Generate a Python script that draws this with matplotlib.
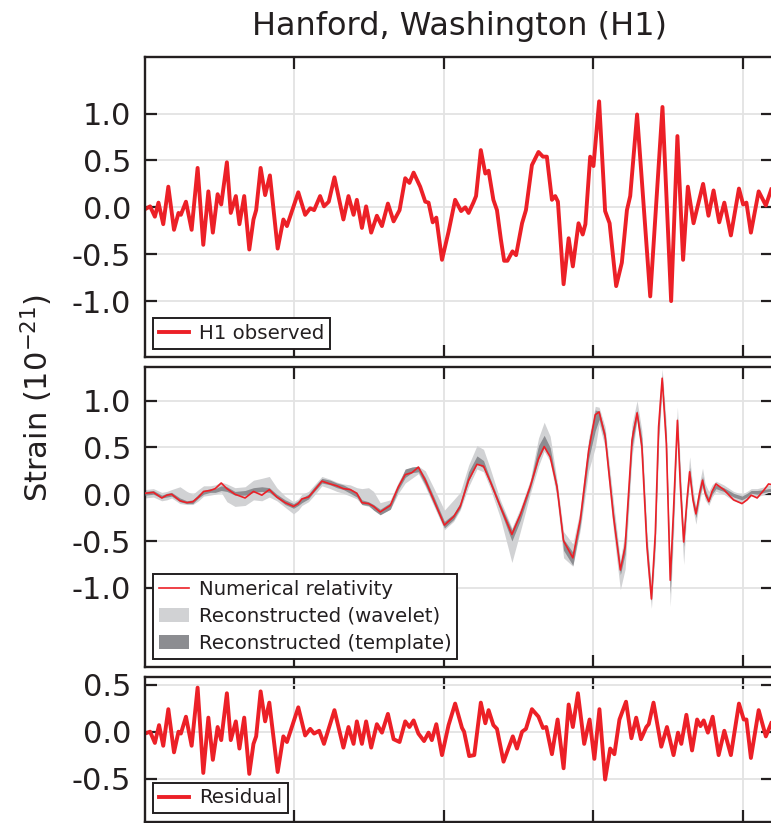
"""
Hanford (H1) strain around the event: observed data, the reconstructed
waveforms with numerical relativity on top, and the residual.
"""

import matplotlib

matplotlib.use("Agg")
import matplotlib.pyplot as plt
from matplotlib.lines import Line2D
from matplotlib.patches import Patch

# observed strain (units of 1e-21) against time (s)
obs_t = [
    0.2500, 0.2517, 0.2533, 0.2545, 0.2561, 0.2578, 0.2597, 0.2612, 0.2620, 0.2637,
    0.2656, 0.2676, 0.2695, 0.2712, 0.2727, 0.2743, 0.2755, 0.2774, 0.2787, 0.2804,
    0.2816, 0.2832, 0.2849, 0.2863, 0.2872, 0.2887, 0.2902, 0.2918, 0.2944, 0.2963,
    0.2975, 0.3013, 0.3036, 0.3053, 0.3066, 0.3086, 0.3099, 0.3115, 0.3134, 0.3164,
    0.3181, 0.3198,
    0.3209, 0.3226, 0.3240, 0.3257, 0.3276, 0.3293, 0.3313, 0.3332, 0.3352, 0.3371,
    0.3385, 0.3399, 0.3421, 0.3438, 0.3449, 0.3463, 0.3475, 0.3494, 0.3516, 0.3538,
    0.3558, 0.3572, 0.3583, 0.3599, 0.3608, 0.3624, 0.3639, 0.3650, 0.3666, 0.3678,
    0.3691, 0.3702, 0.3713, 0.3730, 0.3742, 0.3762, 0.3775, 0.3795, 0.3817, 0.3832,
    0.3845, 0.3862, 0.3873, 0.3882, 0.3901,
    0.3918, 0.3932, 0.3951, 0.3965, 0.3974, 0.3990, 0.4001, 0.4020, 0.4040, 0.4055,
    0.4077, 0.4096, 0.4113, 0.4124, 0.4147, 0.4191, 0.4232, 0.4261, 0.4282, 0.4301,
    0.4317, 0.4336, 0.4368, 0.4386, 0.4403, 0.4422, 0.4439, 0.4461, 0.4488, 0.4502,
    0.4513, 0.4528, 0.4554, 0.4578, 0.4596,
]
obs_strain = [
    -0.02, 0.01, -0.10, 0.05, -0.18, 0.22, -0.24, -0.06, -0.08, 0.06,
    -0.24, 0.42, -0.40, 0.17, -0.27, 0.14, 0.03, 0.48, -0.06, 0.12,
    -0.18, 0.12, -0.45, -0.13, -0.03, 0.42, 0.13, 0.34, -0.44, -0.13,
    -0.20, 0.16, -0.08, -0.01, -0.03, 0.12, 0.01, 0.06, 0.32, -0.13,
    0.12, -0.08,
    0.08, -0.22, 0.01, -0.27, -0.09, -0.20, 0.04, -0.15, -0.03, 0.31,
    0.26, 0.37, 0.22, 0.06, 0.05, -0.16, -0.11, -0.56, -0.26, 0.08,
    -0.04, 0.00, -0.06, 0.05, 0.12, 0.61, 0.36, 0.39, 0.08, -0.03,
    -0.34, -0.57, -0.57, -0.47, -0.51, -0.17, -0.03, 0.45, 0.59, 0.54,
    0.54, 0.08, 0.12, 0.06, -0.82,
    -0.33, -0.63, -0.17, -0.29, -0.18, 0.54, 0.44, 1.13, -0.04, -0.17,
    -0.84, -0.59, -0.03, 0.12, 0.99, -0.95, 1.07, -1.00, 0.76, -0.56,
    0.22, -0.17, 0.25, -0.09, 0.18, -0.16, 0.05, -0.30, 0.20, 0.03,
    0.05, -0.27, 0.17, 0.02, 0.19,
]

# numerical relativity waveform and the two reconstruction bands
nr_t = [
    0.2500, 0.2528, 0.2556, 0.2573, 0.2589, 0.2617, 0.2640, 0.2660, 0.2679, 0.2696,
    0.2718, 0.2735, 0.2755, 0.2774, 0.2801, 0.2835, 0.2863, 0.2891, 0.2916, 0.2941,
    0.2969, 0.2997, 0.3013, 0.3025, 0.3047, 0.3064, 0.3092, 0.3120, 0.3142, 0.3164,
    0.3187, 0.3209, 0.3226, 0.3248, 0.3265, 0.3287, 0.3321, 0.3348, 0.3371, 0.3393,
    0.3415, 0.3438, 0.3466, 0.3502, 0.3533, 0.3555, 0.3583, 0.3611, 0.3633, 0.3655,
    0.3689, 0.3728, 0.3756, 0.3789, 0.3817, 0.3836, 0.3856, 0.3879, 0.3901, 0.3932,
    0.3957, 0.3985, 0.4007, 0.4020, 0.4040, 0.4068, 0.4091, 0.4107, 0.4130, 0.4147,
    0.4163, 0.4180, 0.4195, 0.4208, 0.4219, 0.4231, 0.4245, 0.4258, 0.4269, 0.4282,
    0.4292, 0.4303, 0.4314, 0.4323, 0.4334, 0.4344, 0.4356, 0.4366, 0.4375, 0.4387,
    0.4398, 0.4411, 0.4437, 0.4470, 0.4498, 0.4515, 0.4529, 0.4549, 0.4573, 0.4587,
    0.4603,
]
nr_strain = [
    0.01, 0.02, -0.04, -0.01, 0.00, -0.07, -0.09, -0.08, -0.03, 0.03,
    0.04, 0.06, 0.12, 0.06, 0.00, -0.04, 0.03, -0.01, 0.05, -0.03,
    -0.09, -0.13, -0.10, -0.05, -0.03, 0.03, 0.14, 0.11, 0.09, 0.06,
    0.05, 0.01, -0.09, -0.10, -0.13, -0.19, -0.12, 0.08, 0.21, 0.23,
    0.29, 0.15, -0.06, -0.33, -0.24, -0.13, 0.15, 0.32, 0.30, 0.14,
    -0.13, -0.43, -0.22, 0.08, 0.38, 0.51, 0.40, 0.08, -0.50, -0.68,
    -0.27, 0.47, 0.85, 0.88, 0.62, -0.24, -0.81, -0.56, 0.58, 0.87,
    0.51, -0.56, -1.12, -0.42, 0.72, 1.24, 0.54, -0.92, -0.17, 0.79,
    0.08, -0.51, -0.06, 0.24, -0.06, -0.21, 0.01, 0.15, 0.01, -0.08,
    0.03, 0.11, 0.05, -0.06, -0.10, -0.06, -0.01, -0.04, 0.05, 0.11,
    0.10,
]
wavelet_lo = [
    -0.04, -0.03, -0.07, -0.06, -0.04, -0.10, -0.11, -0.11, -0.07, -0.02,
    -0.01, 0.00, 0.02, -0.08, -0.13, -0.12, -0.06, -0.07, -0.03, -0.07,
    -0.14, -0.21, -0.17, -0.12, -0.08, -0.02, 0.09, 0.06, 0.03, 0.01,
    -0.02, -0.05, -0.11, -0.13, -0.16, -0.21, -0.16, 0.01, 0.12, 0.17,
    0.22, 0.08, -0.12, -0.38, -0.29, -0.17, 0.08, 0.27, 0.24, 0.07,
    -0.25, -0.73, -0.40, 0.00, 0.30, 0.46, 0.35, -0.05, -0.68, -0.77,
    -0.38, 0.25, 0.50, 0.75, 0.50, -0.40, -1.02, -0.80, 0.40, 0.80,
    0.35, -0.75, -1.22, -0.62, 0.50, 1.15, 0.30, -1.20, -0.45, 0.68,
    -0.15, -0.75, -0.16, 0.15, -0.16, -0.32, -0.08, 0.07, -0.06, -0.12,
    -0.03, 0.03, 0.00, -0.07, -0.10, -0.06, -0.02, -0.03, 0.00, 0.02,
    0.02,
]
wavelet_hi = [
    0.05, 0.06, 0.02, 0.03, 0.05, 0.08, 0.03, 0.00, 0.05, 0.09,
    0.09, 0.10, 0.13, 0.11, 0.07, 0.08, 0.15, 0.17, 0.19, 0.07,
    -0.02, -0.08, -0.05, 0.00, 0.03, 0.09, 0.19, 0.16, 0.13, 0.11,
    0.10, 0.07, 0.06, 0.07, 0.03, -0.09, -0.06, 0.13, 0.26, 0.29,
    0.30, 0.25, 0.07, -0.17, -0.06, 0.02, 0.31, 0.52, 0.48, 0.28,
    -0.06, -0.36, -0.15, 0.15, 0.60, 0.77, 0.62, 0.15, -0.40, -0.53,
    -0.16, 0.60, 0.94, 0.93, 0.72, -0.08, -0.70, -0.40, 0.75, 1.00,
    0.68, -0.40, -1.00, -0.25, 0.90, 1.34, 0.75, -0.84, 0.10, 0.93,
    0.30, -0.42, 0.08, 0.40, 0.06, -0.14, 0.12, 0.28, 0.11, 0.03,
    0.10, 0.14, 0.10, 0.03, 0.00, 0.03, 0.06, 0.06, 0.08, 0.10,
    0.10,
]
template_lo = [
    -0.01, 0.00, -0.04, -0.03, -0.02, -0.08, -0.10, -0.10, -0.04, 0.00,
    0.02, 0.02, 0.04, 0.03, -0.01, -0.01, 0.02, 0.03, 0.02, -0.04,
    -0.11, -0.15, -0.12, -0.09, -0.05, 0.02, 0.12, 0.10, 0.07, 0.05,
    0.01, -0.03, -0.11, -0.12, -0.17, -0.22, -0.16, 0.05, 0.18, 0.23,
    0.24, 0.10, -0.10, -0.36, -0.27, -0.15, 0.14, 0.33, 0.28, 0.11,
    -0.17, -0.50, -0.28, 0.05, 0.37, 0.50, 0.40, 0.00, -0.60, -0.76,
    -0.33, 0.38, 0.68, 0.80, 0.56, -0.30, -0.86, -0.64, 0.50, 0.82,
    0.44, -0.64, -1.14, -0.50, 0.62, 1.18, 0.45, -1.06, -0.26, 0.74,
    0.00, -0.56, -0.10, 0.20, -0.10, -0.25, -0.03, 0.10, -0.02, -0.08,
    0.00, 0.06, 0.03, -0.03, -0.06, -0.03, 0.01, 0.00, 0.02, 0.03,
    0.03,
]
template_hi = [
    0.03, 0.04, -0.01, 0.01, 0.02, -0.04, -0.07, -0.06, 0.00, 0.04,
    0.06, 0.06, 0.09, 0.08, 0.03, 0.04, 0.07, 0.08, 0.07, 0.00,
    -0.06, -0.10, -0.07, -0.04, 0.00, 0.07, 0.17, 0.15, 0.12, 0.10,
    0.06, 0.02, -0.06, -0.08, -0.11, -0.16, -0.09, 0.11, 0.27, 0.29,
    0.30, 0.18, -0.02, -0.29, -0.21, -0.09, 0.24, 0.41, 0.36, 0.17,
    -0.10, -0.38, -0.18, 0.12, 0.52, 0.63, 0.50, 0.10, -0.48, -0.62,
    -0.22, 0.56, 0.90, 0.89, 0.66, -0.18, -0.76, -0.48, 0.68, 0.90,
    0.60, -0.48, -1.06, -0.34, 0.80, 1.27, 0.62, -0.88, -0.08, 0.83,
    0.16, -0.46, -0.02, 0.29, -0.02, -0.17, 0.05, 0.19, 0.05, -0.04,
    0.05, 0.10, 0.07, 0.01, -0.02, 0.01, 0.04, 0.04, 0.05, 0.06,
    0.06,
]

# residual: observed minus numerical relativity
res_t = [
    0.2500, 0.2517, 0.2533, 0.2547, 0.2561, 0.2578, 0.2597, 0.2612, 0.2620, 0.2637,
    0.2656, 0.2676, 0.2695, 0.2712, 0.2727, 0.2743, 0.2755, 0.2774, 0.2787, 0.2804,
    0.2816, 0.2832, 0.2849, 0.2863, 0.2872, 0.2887, 0.2902, 0.2916, 0.2944, 0.2963,
    0.2975, 0.3013, 0.3036, 0.3053, 0.3066, 0.3083, 0.3099, 0.3134, 0.3164, 0.3181,
    0.3198,
    0.3209, 0.3226, 0.3240, 0.3257, 0.3276, 0.3293, 0.3313, 0.3332, 0.3352, 0.3371,
    0.3385, 0.3399, 0.3415, 0.3434, 0.3449, 0.3460, 0.3475, 0.3494, 0.3516, 0.3538,
    0.3561, 0.3568, 0.3585, 0.3602, 0.3624, 0.3639, 0.3650, 0.3666, 0.3678, 0.3700,
    0.3731, 0.3745, 0.3762, 0.3775, 0.3795, 0.3817, 0.3832, 0.3843, 0.3862, 0.3881,
    0.3901, 0.3918, 0.3932, 0.3949, 0.3970, 0.3988, 0.4004, 0.4021, 0.4040, 0.4057,
    0.4071, 0.4088, 0.4110, 0.4128, 0.4144, 0.4160, 0.4178, 0.4186, 0.4202, 0.4228,
    0.4247, 0.4269, 0.4284, 0.4295, 0.4312, 0.4331, 0.4348, 0.4359, 0.4370, 0.4384,
    0.4400, 0.4420, 0.4439, 0.4461, 0.4488, 0.4504, 0.4513, 0.4528, 0.4554, 0.4578,
    0.4596,
]
res_strain = [
    -0.02, 0.00, -0.12, 0.07, -0.15, 0.24, -0.22, 0.00, -0.02, 0.16,
    -0.15, 0.47, -0.44, 0.15, -0.30, 0.05, -0.09, 0.41, -0.09, 0.11,
    -0.18, 0.15, -0.45, -0.13, -0.05, 0.43, 0.11, 0.31, -0.43, -0.05,
    -0.11, 0.26, -0.04, 0.03, -0.02, 0.01, -0.13, 0.23, -0.17, 0.05,
    -0.13,
    0.11, -0.13, 0.11, -0.17, 0.08, -0.01, 0.19, -0.08, -0.11, 0.11,
    0.05, 0.12, -0.02, -0.10, -0.01, -0.09, 0.08, -0.25, 0.07, 0.30,
    0.04, 0.00, -0.26, -0.25, 0.31, 0.09, 0.23, 0.07, 0.03, -0.32,
    -0.05, -0.18, 0.00, 0.03, 0.24, 0.16, 0.04, 0.05, -0.24, 0.13,
    -0.39, 0.29, 0.05, 0.41, -0.13, 0.13, -0.29, 0.24, -0.51, -0.18,
    -0.24, 0.13, 0.32, -0.07, 0.15, -0.08, 0.05, 0.08, 0.31, -0.16,
    0.05, -0.25, -0.01, -0.13, 0.18, -0.20, 0.13, 0.06, 0.12, -0.01,
    0.16, -0.25, 0.01, -0.25, 0.30, 0.13, 0.13, -0.28, 0.23, -0.05,
    0.09,
]

time_ticks = [0.30, 0.35, 0.40, 0.45]
strain_ticks = [-1.0, -0.5, 0.0, 0.5, 1.0]
residual_ticks = [-0.5, 0.0, 0.5]

RED = "#ec2027"
LIGHT = "#d1d2d4"
DARK = "#8c8d91"
INK = "#231f20"

plt.rcParams["font.family"] = "DejaVu Sans"
plt.rcParams["axes.unicode_minus"] = False


def style_axes(ax, ylim, yticks):
    """Inward ticks on every side, pale grid and no time labels."""
    ax.set_xlim(0.25, 0.4603)
    ax.set_ylim(*ylim)
    ax.set_xticks(time_ticks)
    ax.set_yticks(yticks)
    ax.grid(True, color="#e3e3e3", linewidth=1.3, zorder=0)
    ax.set_axisbelow(True)
    ax.tick_params(
        direction="in", length=8.5, width=1.6, color=INK,
        top=True, right=True, labelbottom=False,
        labelsize=22, labelcolor=INK, pad=10,
    )
    for spine in ax.spines.values():
        spine.set_linewidth(1.7)
        spine.set_color(INK)


def add_legend(ax, handles, labels):
    leg = ax.legend(
        handles, labels, loc="lower left", fontsize=14.2,
        handlelength=1.5, handletextpad=0.5, borderaxespad=0.42,
        borderpad=0.3, labelspacing=0.42, fancybox=False, framealpha=1,
    )
    leg.get_frame().set_edgecolor(INK)
    leg.get_frame().set_linewidth(1.4)
    for text in leg.get_texts():
        text.set_color(INK)


fig = plt.figure(figsize=(7.71, 8.23), dpi=100)
left, width = 0.1881, 0.8149
ax_obs = fig.add_axes([left, 0.5658, width, 0.3646])
ax_rec = fig.add_axes([left, 0.1892, width, 0.3645])
ax_res = fig.add_axes([left, 0.0016, width, 0.1754])

# observed data
ax_obs.plot(obs_t, obs_strain, color=RED, linewidth=2.8, solid_joinstyle="round")
style_axes(ax_obs, (-1.6, 1.6), strain_ticks)
add_legend(ax_obs, [Line2D([], [], color=RED, linewidth=2.8)], ["H1 observed"])
ax_obs.set_title("Hanford, Washington (H1)", fontsize=23, color=INK, pad=16)

# reconstructions with the numerical relativity waveform
ax_rec.fill_between(nr_t, wavelet_lo, wavelet_hi, color=LIGHT, linewidth=0, zorder=2)
ax_rec.fill_between(nr_t, template_lo, template_hi, color=DARK, linewidth=0, zorder=3)
ax_rec.plot(nr_t, nr_strain, color=RED, linewidth=1.2, zorder=4)
style_axes(ax_rec, (-1.85, 1.357), strain_ticks)
add_legend(
    ax_rec,
    [
        Line2D([], [], color=RED, linewidth=1.2),
        Patch(facecolor=LIGHT, edgecolor="none"),
        Patch(facecolor=DARK, edgecolor="none"),
    ],
    ["Numerical relativity", "Reconstructed (wavelet)", "Reconstructed (template)"],
)

# residual
ax_res.plot(res_t, res_strain, color=RED, linewidth=2.8, solid_joinstyle="round")
style_axes(ax_res, (-0.96, 0.58), residual_ticks)
add_legend(ax_res, [Line2D([], [], color=RED, linewidth=2.8)], ["Residual"])

fig.text(0.048, 0.516, "Strain (10$^{-21}$)", rotation=90, fontsize=22,
         color=INK, ha="center", va="center")

fig.savefig("out.png", dpi=100)
